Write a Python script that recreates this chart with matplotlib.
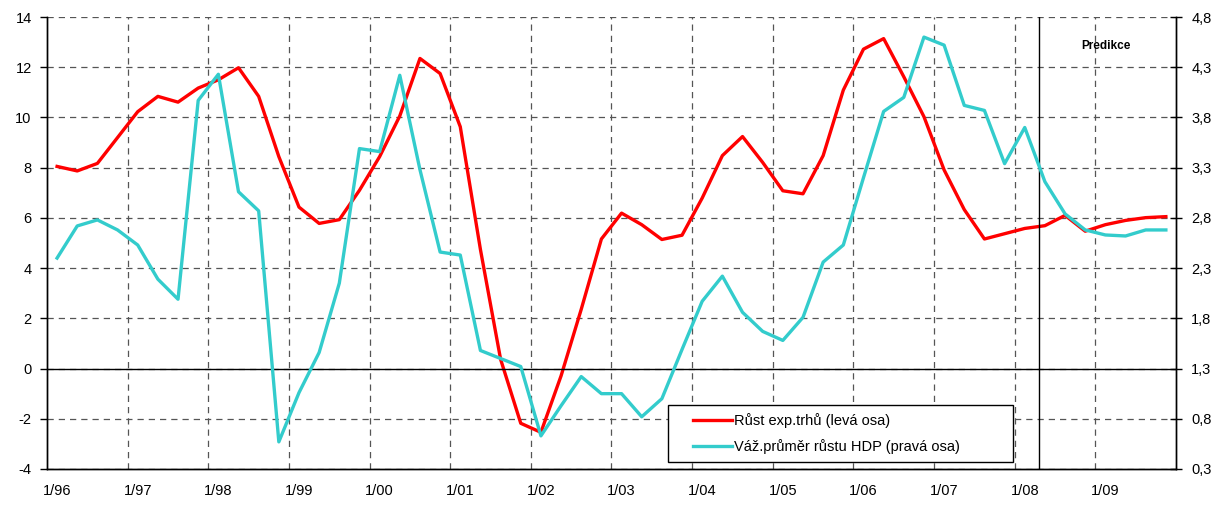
import numpy as np
import matplotlib
matplotlib.use('Agg')
import matplotlib.pyplot as plt
from matplotlib.lines import Line2D
from matplotlib.legend_handler import HandlerLine2D

plt.rcParams['font.family'] = ['Liberation Sans', 'DejaVu Sans']
plt.rcParams['axes.unicode_minus'] = False

# quarterly data 1/96 .. 4/09
quarters = np.arange(56)
year_labels = ['1/96', '1/97', '1/98', '1/99', '1/00', '1/01', '1/02',
               '1/03', '1/04', '1/05', '1/06', '1/07', '1/08', '1/09']

# Rust exp. trhu (leva osa)
trhy = [8.05, 7.87, 8.17, 9.2, 10.23, 10.84, 10.61, 11.17, 11.5, 11.98,
        10.84, 8.44, 6.43, 5.78, 5.93, 7.1, 8.44, 10.06, 12.35, 11.75,
        9.63, 4.74, 0.37, -2.18, -2.54, -0.29, 2.36, 5.16, 6.19, 5.73,
        5.14, 5.31, 6.79, 8.48, 9.24, 8.21, 7.08, 6.96, 8.48, 11.09,
        12.72, 13.14, 11.62, 10.03, 7.91, 6.33, 5.16, 5.37, 5.58, 5.69,
        6.10, 5.47, 5.73, 5.90, 6.01, 6.05]

# Vaz. prumer rustu HDP (prava osa)
hdp = [2.40, 2.72, 2.78, 2.68, 2.53, 2.19, 1.99, 3.97, 4.23, 3.06,
       2.87, 0.57, 1.06, 1.46, 2.15, 3.49, 3.46, 4.22, 3.28, 2.46,
       2.43, 1.48, 1.40, 1.32, 0.63, 0.93, 1.22, 1.05, 1.05, 0.82,
       1.00, 1.49, 1.97, 2.22, 1.86, 1.67, 1.58, 1.81, 2.36, 2.53,
       3.20, 3.86, 4.00, 4.60, 4.52, 3.92, 3.87, 3.34, 3.70, 3.16,
       2.84, 2.68, 2.63, 2.62, 2.68, 2.68]

left_ticks = list(range(-4, 15, 2))
right_ticks = [0.3, 0.8, 1.3, 1.8, 2.3, 2.8, 3.3, 3.8, 4.3, 4.8]
predikce_od = 48.7

fig = plt.figure(figsize=(12.27, 5.05), dpi=100)
ax = fig.add_axes([0.0383, 0.0713, 0.9201, 0.8950])
ax2 = ax.twinx()

ax.plot(quarters, trhy, color='#ff0000', lw=2.4, label='Růst exp.trhů (levá osa)')
ax2.plot(quarters, hdp, color='#33cccc', lw=2.4, label='Váž.průměr růstu HDP (pravá osa)')

ax.set_xlim(-0.5, 55.5)
ax.set_ylim(-4, 14)
ax2.set_ylim(0.3, 4.8)

# grid
ax.set_xticks(quarters[::4])
ax.set_xticklabels(year_labels)
ax.set_xticks(quarters[3:52:4] + 0.5, minor=True)
ax.set_yticks(left_ticks)
ax.grid(True, which='minor', axis='x', color='#555555', linestyle=(0, (5, 4)), lw=0.9)
ax.grid(True, which='major', axis='y', color='#555555', linestyle=(0, (5, 4)), lw=0.9)
ax.axhline(0, color='black', lw=1, zorder=2)
ax.axvline(predikce_od, color='black', lw=1, zorder=2)

ax.tick_params(axis='x', which='both', length=0, pad=11, labelsize=10.5)
ax.tick_params(axis='y', direction='out', length=5, width=1, pad=6, labelsize=10.5)

ax2.set_yticks(right_ticks)
ax2.set_yticklabels([f'{v:.1f}'.replace('.', ',') for v in right_ticks])
ax2.tick_params(axis='y', direction='inout', length=8, width=1, pad=7, labelsize=10.5)

for a in (ax, ax2):
    a.spines['top'].set_visible(False)
    for s in ('left', 'right', 'bottom'):
        a.spines[s].set_color('black')
        a.spines[s].set_linewidth(1)

h1, l1 = ax.get_legend_handles_labels()
h2, l2 = ax2.get_legend_handles_labels()
fs = 10.5
fs_px = fs * 100 / 72
leg = ax2.legend(h1 + h2, l1 + l2, loc='lower left',
                 bbox_to_anchor=(0.55, 0.0155, 0.306, 0.128), mode='expand',
                 borderaxespad=0, fancybox=False, edgecolor='black', framealpha=1,
                 fontsize=fs, handlelength=56 / fs_px, handletextpad=0.15,
                 labelspacing=0.75, borderpad=0.55,
                 handler_map={Line2D: HandlerLine2D(xpad=17 / fs_px)})
leg.get_frame().set_linewidth(1)

fig.text(1106 / 1227, 1 - 46 / 505, 'Predikce', ha='center', va='center',
         fontsize=8.5, fontweight='bold')

fig.savefig('out.png', dpi=100)
